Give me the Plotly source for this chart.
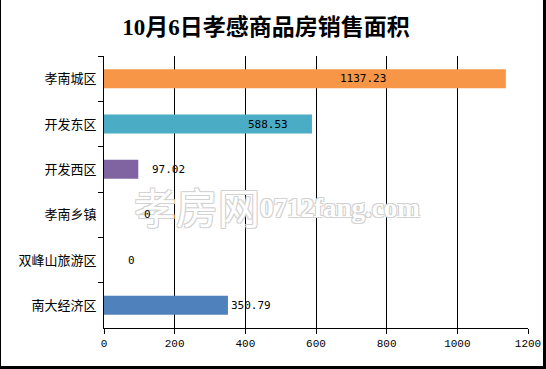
import plotly.graph_objects as go

categories = ["孝南城区", "开发东区", "开发西区", "孝南乡镇", "双峰山旅游区", "南大经济区"]
values = [1137.23, 588.53, 97.02, 0, 0, 350.79]
value_labels = ["1137.23", "588.53", "97.02", "0", "0", "350.79"]
bar_colors = ["#F79646", "#4BACC6", "#8064A2", "#C0504D", "#9BBB59", "#4F81BD"]
label_shifts = [-168, -66, 12, 38, 22, 1]
x_ticks = [0, 200, 400, 600, 800, 1000, 1200]
title_text = "10月6日孝感商品房销售面积"

W, H = 546, 369
L, R, T, B = 104, 18, 56, 41
pw, ph = W - L - R, H - T - B

def px(x):
    return (x - L) / pw

def py(y):
    return 1 - (y - T) / ph

fig = go.Figure()
fig.add_trace(go.Bar(
    y=categories, x=values, orientation="h",
    marker=dict(color=bar_colors, line=dict(width=0)),
    width=0.42, showlegend=False, hoverinfo="skip",
))

# watermark (drawn first so labels sit on top)
wm_shadow = "1px 1px 0 #d2d2d2, -1px -1px 0 #d2d2d2, 1px -1px 0 #d2d2d2, -1px 1px 0 #d2d2d2"
fig.add_annotation(xref="paper", yref="paper", x=px(132), y=py(205), xanchor="left",
                   yanchor="middle", text="孝房网", showarrow=False,
                   font=dict(family="Noto Sans CJK SC", size=42, color="#ffffff", shadow=wm_shadow))
fig.add_annotation(xref="paper", yref="paper", x=px(258), y=py(208), xanchor="left",
                   yanchor="middle", text="<b>0712fang.com</b>", showarrow=False,
                   font=dict(family="Liberation Serif", size=27, color="#ffffff", shadow=wm_shadow))

for c, v, t, s in zip(categories, values, value_labels, label_shifts):
    fig.add_annotation(x=v, y=c, text=t, showarrow=False, xanchor="left",
                       xshift=s, yshift=0,
                       font=dict(family="DejaVu Sans Mono", size=11, color="#000"))

# outer frame
fig.add_shape(type="line", xref="paper", yref="paper", x0=px(0.5), x1=px(0.5), y0=py(0), y1=py(368),
              line=dict(color="black", width=1))
fig.add_shape(type="rect", xref="paper", yref="paper", x0=px(543), x1=px(546), y0=py(0), y1=py(369),
              line=dict(width=0), fillcolor="black")
fig.add_shape(type="rect", xref="paper", yref="paper", x0=px(0), x1=px(546), y0=py(366), y1=py(369),
              line=dict(width=0), fillcolor="black")

fig.update_layout(
    width=W, height=H,
    margin=dict(l=L, r=R, t=T, b=B, autoexpand=False),
    paper_bgcolor="white", plot_bgcolor="white",
    title=dict(text="<b>" + title_text + "</b>", x=266 / W, xref="container", xanchor="center",
               y=1 - 27 / H, yanchor="middle",
               font=dict(family="Liberation Serif, Noto Sans CJK SC", size=23, color="#000")),
    xaxis=dict(range=[0, 1200], tickvals=x_ticks, ticktext=[str(v) for v in x_ticks],
               showgrid=True, gridcolor="black", gridwidth=1, zeroline=False,
               showline=True, linecolor="black", linewidth=1,
               ticks="outside", ticklen=5, tickcolor="black",
               tickfont=dict(family="Liberation Mono", size=11, color="#000"), fixedrange=True),
    yaxis=dict(categoryorder="array", categoryarray=categories, autorange="reversed",
               showgrid=False, zeroline=False, showline=True, linecolor="black", linewidth=1,
               ticks="outside", ticklen=5, tickcolor="black", tickson="boundaries",
               ticklabelstandoff=4,
               tickfont=dict(family="Noto Sans CJK SC", size=13, color="#000"), fixedrange=True),
)

fig.write_html("out.html", config={"displayModeBar": False},
               post_script="document.body.style.margin='0';document.body.style.overflow='hidden';")
